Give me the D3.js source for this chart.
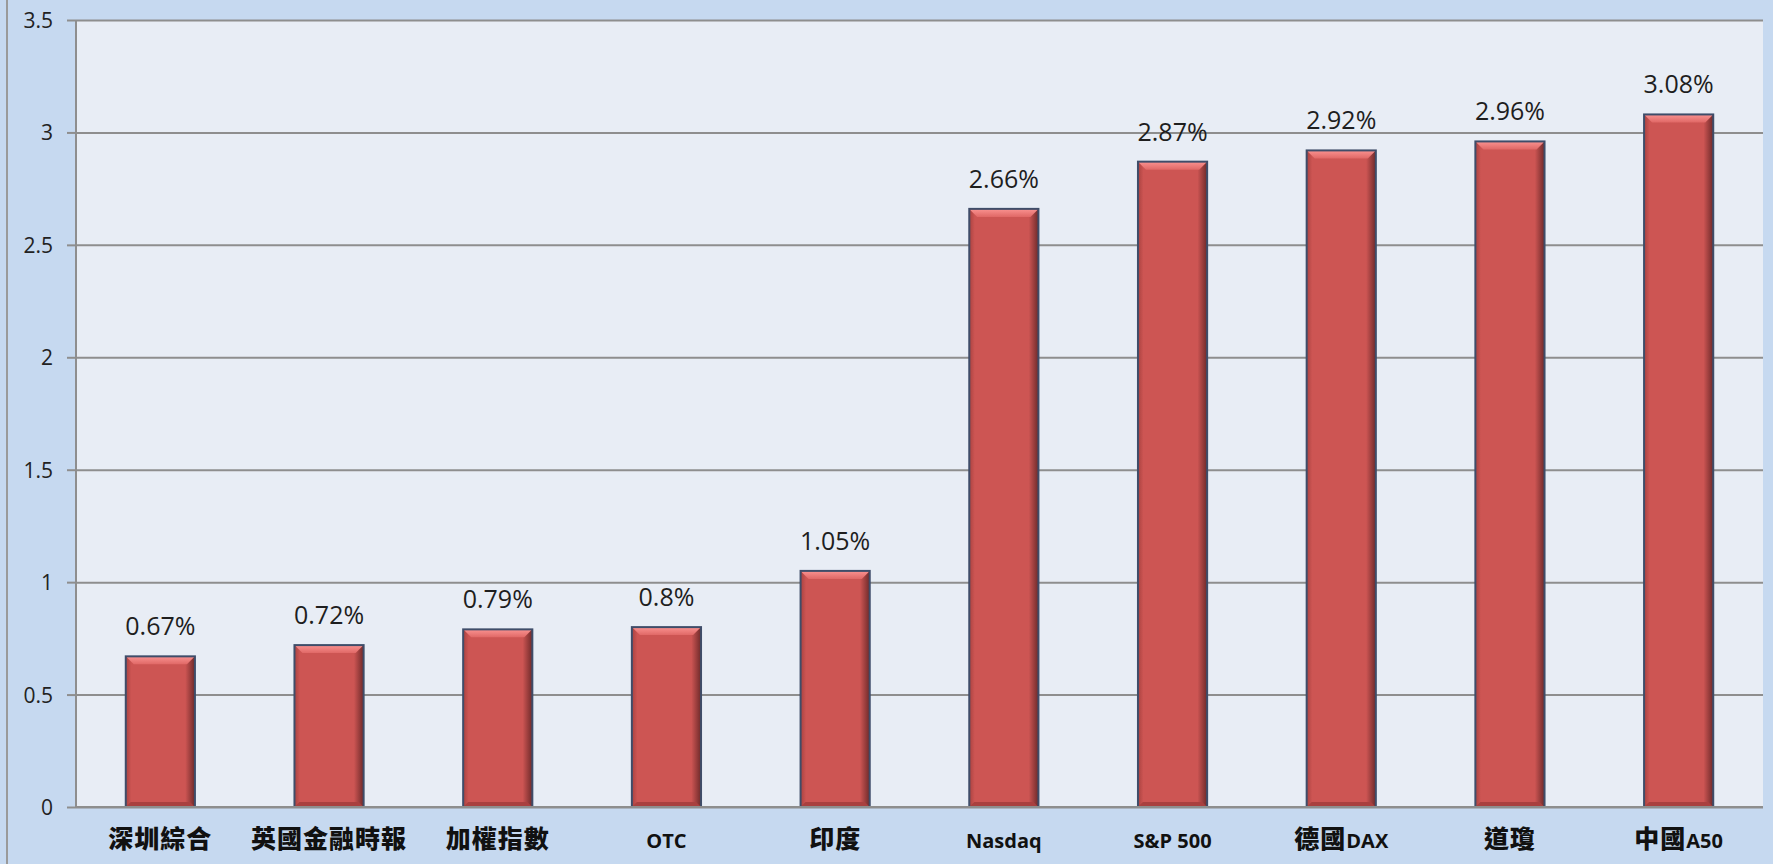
<!DOCTYPE html>
<html>
<head>
  <meta charset="utf-8">
  <title>Index returns</title>
  <script src="https://cdn.jsdelivr.net/npm/d3@7"></script>
  <style>
  body {
    margin: 0;
    background: #c6d9f0;
  }
  .tick-label {
    font-family: "Open Sans", sans-serif;
    font-size: 21px;
    fill: #222;
    text-anchor: end;
  }
  .value-label {
    font-family: "Open Sans", sans-serif;
    font-size: 25px;
    fill: #1e1e1e;
    text-anchor: middle;
  }
  .cat-label {
    font-family: "Noto Sans CJK TC", sans-serif;
    font-weight: 900;
    font-size: 25px;
    letter-spacing: 1px;
    fill: #111;
    text-anchor: middle;
  }
  .cat-label .latin {
    font-family: "Open Sans", sans-serif;
    font-weight: bold;
    font-size: 20px;
    letter-spacing: 0;
  }
  </style>
</head>
<body>
<script>
// data
var categories = ["深圳綜合", "英國金融時報", "加權指數", "OTC", "印度", "Nasdaq", "S&P 500", "德國DAX", "道瓊", "中國A50"];
var values = [0.67, 0.72, 0.79, 0.8, 1.05, 2.66, 2.87, 2.92, 2.96, 3.08];
var yTicks = [0, 0.5, 1, 1.5, 2, 2.5, 3, 3.5];

var width = 1773, height = 864;
var plotLeft = 76, plotRight = 1763, plotTop = 20, plotBottom = 807;

var svg = d3.select("body").append("svg")
    .attr("width", width)
    .attr("height", height);

// gradients for the bevelled bars
var defs = svg.append("defs");
var side = defs.append("linearGradient").attr("id", "barSide")
    .attr("x1", 0).attr("x2", 1).attr("y1", 0).attr("y2", 0);
side.append("stop").attr("offset", "0%").attr("stop-color", "#a94240");
side.append("stop").attr("offset", "8%").attr("stop-color", "#cd5553");
side.append("stop").attr("offset", "86%").attr("stop-color", "#cd5553");
side.append("stop").attr("offset", "100%").attr("stop-color", "#6e2a2a");

var topGrad = defs.append("linearGradient").attr("id", "barTop")
    .attr("x1", 0).attr("x2", 0).attr("y1", 0).attr("y2", 1);
topGrad.append("stop").attr("offset", "0%").attr("stop-color", "#fa9391");
topGrad.append("stop").attr("offset", "100%").attr("stop-color", "#e06866");

// outer frame line on the far left
svg.append("line")
    .attr("x1", 7).attr("x2", 7).attr("y1", 0).attr("y2", height)
    .attr("stroke", "#9a9a9a").attr("stroke-width", 2);

// plot area
svg.append("rect")
    .attr("x", plotLeft).attr("y", plotTop)
    .attr("width", plotRight - plotLeft).attr("height", plotBottom - plotTop)
    .attr("fill", "#e8edf5");

var x = d3.scaleBand()
    .domain(categories)
    .range([plotLeft, plotRight])
    .paddingInner(0.59)
    .paddingOuter(0.295);

var y = d3.scaleLinear()
    .domain([0, 3.5])
    .range([plotBottom, plotTop]);

// gridlines + ticks
var yAxis = svg.append("g")
    .attr("transform", "translate(" + plotLeft + ",0)")
    .call(d3.axisLeft(y).tickValues(yTicks).tickSize(9).tickFormat(d3.format("")));
yAxis.attr("font-size", null).attr("font-family", null);
yAxis.select(".domain").remove();
yAxis.selectAll(".tick line")
    .attr("stroke", "#8e8e8e").attr("stroke-width", 2);
yAxis.selectAll(".tick")
    .append("line")
    .attr("x1", 0).attr("x2", plotRight - plotLeft)
    .attr("stroke", "#8e8e8e").attr("stroke-width", 2);
yAxis.selectAll(".tick text")
    .attr("class", "tick-label")
    .attr("x", -23)
    .attr("dy", "0.36em")
    .attr("fill", null);

// left axis line
svg.append("line")
    .attr("x1", plotLeft).attr("x2", plotLeft).attr("y1", plotTop).attr("y2", plotBottom)
    .attr("stroke", "#8e8e8e").attr("stroke-width", 2);

// bars
var bars = svg.selectAll(".bar")
    .data(values)
    .enter().append("g")
    .attr("class", "bar");

var bw = x.bandwidth();
bars.append("rect")
    .attr("x", function(d, i) { return x(categories[i]); })
    .attr("y", function(d) { return y(d); })
    .attr("width", bw)
    .attr("height", function(d) { return plotBottom - y(d); })
    .attr("fill", "url(#barSide)");

// top bevel
bars.append("path")
    .attr("d", function(d, i) {
      var x0 = x(categories[i]), y0 = y(d), b = 8;
      return "M" + x0 + "," + y0 + "L" + (x0 + bw) + "," + y0 +
        "L" + (x0 + bw - b) + "," + (y0 + b) + "L" + (x0 + b) + "," + (y0 + b) + "Z";
    })
    .attr("fill", "url(#barTop)");

// bottom shade
bars.append("path")
    .attr("d", function(d, i) {
      var x0 = x(categories[i]), b = 5;
      return "M" + x0 + "," + plotBottom + "L" + (x0 + bw) + "," + plotBottom +
        "L" + (x0 + bw - b) + "," + (plotBottom - b) + "L" + (x0 + b) + "," + (plotBottom - b) + "Z";
    })
    .attr("fill", "#a9403f");

bars.append("rect")
    .attr("x", function(d, i) { return x(categories[i]); })
    .attr("y", function(d) { return y(d); })
    .attr("width", bw)
    .attr("height", function(d) { return plotBottom - y(d); })
    .attr("fill", "none")
    .attr("stroke", "#3f4d69")
    .attr("stroke-width", 2);

// value labels
bars.append("text")
    .attr("class", "value-label")
    .attr("x", function(d, i) { return x(categories[i]) + bw / 2; })
    .attr("y", function(d) { return y(d) - 21; })
    .text(function(d) { return d + "%"; });

// x axis baseline
svg.append("line")
    .attr("x1", plotLeft).attr("x2", plotRight).attr("y1", plotBottom).attr("y2", plotBottom)
    .attr("stroke", "#8e8e8e").attr("stroke-width", 2);

// category labels, CJK and latin parts in different sizes
var cats = svg.selectAll(".cat-label")
    .data(categories)
    .enter().append("text")
    .attr("class", "cat-label")
    .attr("x", function(d) { return x(d) + bw / 2; })
    .attr("y", 848);

cats.each(function(d) {
  var t = d3.select(this);
  d.split(/([\u4e00-\u9fff]+)/).filter(function(s) { return s.length; }).forEach(function(s) {
    t.append("tspan")
      .attr("class", /[\u4e00-\u9fff]/.test(s) ? "cjk" : "latin")
      .text(s);
  });
});
</script>
</body>
</html>
